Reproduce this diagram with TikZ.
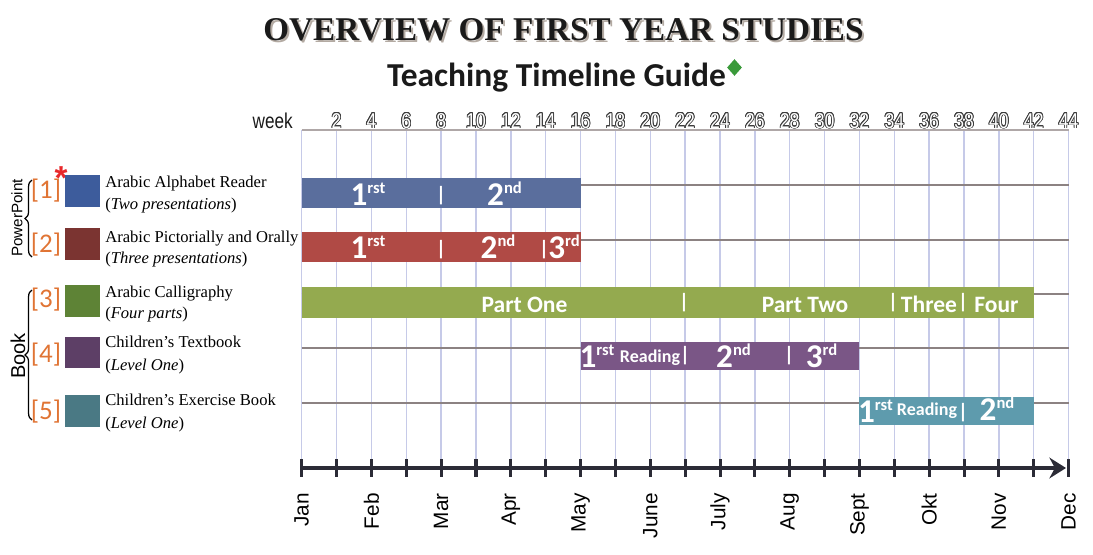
\documentclass[tikz,border=0pt]{standalone}
\usepackage{fontspec}
\usepackage{graphicx}
\usepackage{contour}
\usetikzlibrary{arrows.meta, positioning, decorations.pathreplacing, shapes.geometric}

\setmainfont{Liberation Serif}
\setsansfont{Liberation Sans}
\newfontfamily\barfont{Carlito}

\definecolor{barblue}{HTML}{5A6E9D}
\definecolor{barred}{HTML}{B04A45}
\definecolor{bargreen}{HTML}{94AA4F}
\definecolor{barpurple}{HTML}{7A5686}
\definecolor{barteal}{HTML}{5E9BAD}
\definecolor{legblue}{HTML}{3D5C9C}
\definecolor{legred}{HTML}{7B3431}
\definecolor{leggreen}{HTML}{5E8336}
\definecolor{legpurple}{HTML}{5D3F66}
\definecolor{legteal}{HTML}{4A7984}
\definecolor{tagorange}{HTML}{E07434}
\definecolor{gridlav}{HTML}{C6CAE8}
\definecolor{gridbrown}{HTML}{8C8282}
\definecolor{axisdark}{HTML}{2B2B36}
\definecolor{shadowgray}{HTML}{B3AAA2}
\definecolor{gemgreen}{HTML}{3A9A3A}
\definecolor{asterred}{HTML}{E8282A}
\definecolor{inkdark}{HTML}{1A1A1A}

\contourlength{0.7pt}
\contournumber{16}

\newcommand{\ordnum}[2]{{\fontsize{24}{24}\selectfont #1}\raisebox{8pt}{\fontsize{12}{12}\selectfont #2}}
\newcommand{\wknum}[1]{\scalebox{0.82}[1]{\contour{inkdark!85}{\textcolor{white}{#1}}}}

\tikzset{
  titletext/.style={anchor=base, inner sep=0pt, font=\bfseries\fontsize{24}{24}\selectfont},
  subtitle/.style={anchor=base, inner sep=0pt, text=inkdark, font=\barfont\bfseries\fontsize{24.2}{25}\selectfont},
  gridv/.style={draw=gridlav, line width=1pt},
  gridh/.style={draw=gridbrown, line width=0.9pt},
  weekword/.style={anchor=base east, inner sep=0pt, text=inkdark, font=\sffamily\fontsize{15.5}{16}\selectfont},
  weeknum/.style={anchor=base, inner sep=0pt, font=\sffamily\fontsize{15.5}{16}\selectfont},
  ordlabel/.style={anchor=base, inner sep=0pt, text=white, font=\barfont\bfseries},
  partlabel/.style={anchor=base, inner sep=0pt, text=white, font=\barfont\bfseries\fontsize{17}{17}\selectfont},
  readlabel/.style={anchor=base, inner sep=0pt, text=white, font=\barfont\bfseries\fontsize{13}{13}\selectfont},
  seplabel/.style={inner sep=0pt, text=white, font=\barfont\bfseries\fontsize{15}{15}\selectfont},
  legbox/.style={minimum width=25.2pt, minimum height=23pt, inner sep=0pt},
  tag/.style={inner sep=0pt, text=tagorange, font=\barfont\fontsize{19.5}{20}\selectfont},
  legname/.style={anchor=base west, inner sep=0pt, font=\fontsize{12}{14}\selectfont},
  groupname/.style={rotate=90, inner sep=0pt, font=\sffamily},
  groupbrace/.style={decorate, decoration={brace, amplitude=5pt}, line width=0.9pt},
  axisline/.style={draw=axisdark, line width=3.5pt},
  axistick/.style={draw=axisdark, line width=2.2pt},
  monthlabel/.style={rotate=90, anchor=east, inner sep=0pt, font=\sffamily\fontsize{15}{15}\selectfont}
}

\begin{document}
\begin{tikzpicture}[x=0.0254cm, y=-0.0254cm]
  \useasboundingbox (0,0) rectangle (1093,554);
  \def\gx{301.7}
  \def\gw{17.43}

  % Titles
  \node[titletext, text=shadowgray] (titleshadow) at (565.5,42) {OVERVIEW OF FIRST YEAR STUDIES};
  \node[titletext, text=inkdark] (title) at (563.5,40) {OVERVIEW OF FIRST YEAR STUDIES};
  \node[subtitle] (subtitle) at (556.5,86) {Teaching Timeline Guide};
  \node[diamond, fill=gemgreen, inner sep=0pt, minimum width=10.8pt, minimum height=12.2pt] (gem) at (734.5,67.5) {};

  % Grid
  \foreach \w in {0,2,...,44}
    \draw[gridv] ({\gx+\gw*\w},130) -- ({\gx+\gw*\w},460);
  \draw[draw=gridbrown!70, line width=0.9pt] (\gx,130) -- ({\gx+\gw*44},130);
  \foreach \y in {185,240,294,348,403}
    \draw[gridh] (\gx,\y) -- ({\gx+\gw*44},\y);

  % Week numbers
  \node[weekword] (weekword) at (293,128) {\scalebox{0.8}[1]{week}};
  \foreach \w in {2,4,...,44}
    \node[weeknum] (wk\w) at ({\gx+\gw*\w},128) {\wknum{\w}};

  % Bars
  \fill[barblue] (\gx,178) rectangle ({\gx+\gw*16},208);
  \fill[barred] (\gx,232) rectangle ({\gx+\gw*16},262);
  \fill[bargreen] (\gx,287) rectangle ({\gx+\gw*42},318);
  \fill[barpurple] ({\gx+\gw*16},342) rectangle ({\gx+\gw*32},370);
  \fill[barteal] ({\gx+\gw*32},397) rectangle ({\gx+\gw*42},425);

  % Labels in the bars
  \node[ordlabel] (b1one) at (368,205) {\ordnum{1}{rst}};
  \node[seplabel] (b1sep) at (441,195.5) {|};
  \node[ordlabel] (b1two) at (504.5,205) {\ordnum{2}{nd}};

  \node[ordlabel] (b2one) at (368,258) {\ordnum{1}{rst}};
  \node[seplabel] (b2sep) at (441,249.5) {|};
  \node[ordlabel] (b2two) at (498,258) {\ordnum{2}{nd}};
  \node[seplabel] (b2sepb) at (544,249.5) {|};
  \node[ordlabel] (b2three) at (564,258) {\ordnum{3}{rd}};

  \node[partlabel] (b3one) at (524.5,312) {Part One};
  \node[seplabel] (b3sep) at (684,303) {|};
  \node[partlabel] (b3two) at (805,312) {Part Two};
  \node[seplabel] (b3sepb) at (893,303) {|};
  \node[partlabel] (b3three) at (929,312) {Three};
  \node[seplabel] (b3sepc) at (963,303) {|};
  \node[partlabel] (b3four) at (996.5,312) {Four};

  \node[ordlabel] (b4one) at (597,367) {\ordnum{1}{rst}};
  \node[readlabel] (b4read) at (650,362) {Reading};
  \node[seplabel] (b4sep) at (685,356) {|};
  \node[ordlabel] (b4two) at (733.5,367) {\ordnum{2}{nd}};
  \node[seplabel] (b4sepb) at (789,356) {|};
  \node[ordlabel] (b4three) at (821.5,367) {\ordnum{3}{rd}};

  \node[ordlabel] (b5one) at (875.5,422) {\ordnum{1}{rst}};
  \node[readlabel] (b5read) at (927,415) {Reading};
  \node[seplabel] (b5sep) at (963,413) {|};
  \node[ordlabel] (b5two) at (997,420) {\ordnum{2}{nd}};

  % Legend
  \node[groupname, font=\sffamily\fontsize{11}{11}\selectfont] (ppt) at (17,218) {PowerPoint};
  \draw[groupbrace] (32,257) -- (32,180);
  \node[groupname, font=\sffamily\fontsize{14.5}{15}\selectfont] (book) at (18,356) {Book};
  \draw[groupbrace] (32,420) -- (32,290);

  \node[tag] (tag1) at (46,191) {[1]};
  \node[tag] (tag2) at (46,245) {[2]};
  \node[tag] (tag3) at (46,300) {[3]};
  \node[tag] (tag4) at (46,355) {[4]};
  \node[tag] (tag5) at (46,412) {[5]};
  \node[anchor=base, inner sep=0pt, text=asterred, font=\sffamily\bfseries\fontsize{24}{24}\selectfont] (aster) at (61,175.5) {\raisebox{-0.43em}[0.3em][0pt]{*}};

  \node[legbox, fill=legblue] (box1) at (82.5,191) {};
  \node[legbox, fill=legred] (box2) at (82.5,244) {};
  \node[legbox, fill=leggreen] (box3) at (82.5,301) {};
  \node[legbox, fill=legpurple] (box4) at (82.5,352.5) {};
  \node[legbox, fill=legteal] (box5) at (82.5,411) {};

  \node[legname] (name1) at (105,187) {Arabic Alphabet Reader};
  \node[legname] (note1) at (105,209) {(\textit{Two presentations})};
  \node[legname] (name2) at (105,242) {Arabic Pictorially and Orally};
  \node[legname] (note2) at (105,263) {(\textit{Three presentations})};
  \node[legname] (name3) at (105,297) {Arabic Calligraphy};
  \node[legname] (note3) at (105,318) {(\textit{Four parts})};
  \node[legname] (name4) at (105,347) {Children’s Textbook};
  \node[legname] (note4) at (105,370) {(\textit{Level One})};
  \node[legname] (name5) at (105,405) {Children’s Exercise Book};
  \node[legname] (note5) at (105,428) {(\textit{Level One})};

  % Time axis
  \draw[axisline, -{Stealth[length=12pt, width=15pt, inset=4pt]}] (\gx,468) -- (1066,468);
  \foreach \w in {0,2,...,44}
    \draw[axistick] ({\gx+\gw*\w},459) -- ({\gx+\gw*\w},477);
  \foreach \m [count=\i from 0] in {Jan,Feb,Mar,Apr,May,June,July,Aug,Sept,Okt,Nov,Dec}
    \node[monthlabel] (m-\m) at ({\gx+\gw*4*\i},493) {\m};
\end{tikzpicture}
\end{document}
